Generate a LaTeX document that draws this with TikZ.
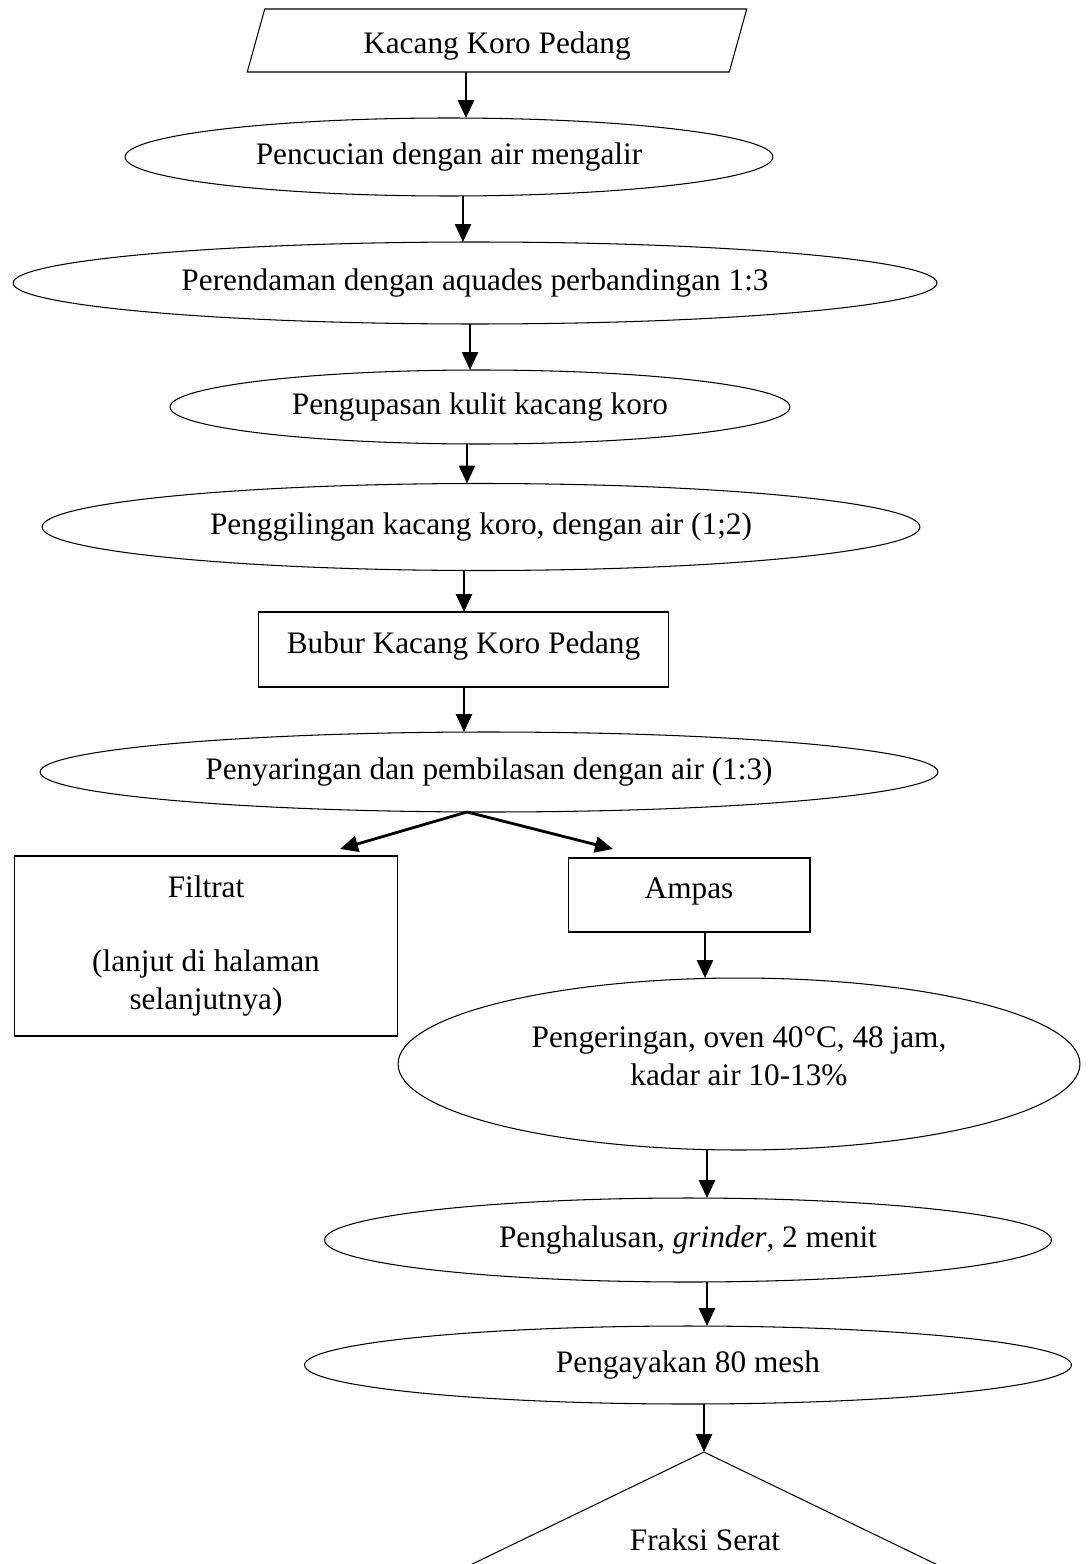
\documentclass[tikz,border=0pt]{standalone}
\usepackage{fontspec}
\setmainfont{Liberation Serif}
\usepackage{tikz}
\usetikzlibrary{shapes.geometric, arrows.meta}

\begin{document}
\begin{tikzpicture}[x = 0.02cm, y = -0.02cm,
  font = \fontsize{17.8}{22}\selectfont,
  garis/.style = {draw, line width = 0.6pt, inner sep = 0pt, outer sep = 0pt},
  proses/.style = {garis, ellipse},
  kotak/.style = {garis, rectangle},
  panah/.style = {draw, -{Triangle[length = 0.36cm, width = 0.32cm]}, line width = 1.6pt}]
  \useasboundingbox (0, 0) rectangle (1088, 1564);
  \clip (0, 0) rectangle (1088, 1564);

  \node[garis, trapezium, trapezium left angle = 76, trapezium right angle = 104,
    trapezium stretches = true, minimum width = 10cm, minimum height = 1.26cm,
    text height = 19pt, text depth = 4pt]
    (kacang) at (497, 40.5) {Kacang Koro Pedang};
  \node[proses, minimum width = 12.96cm, minimum height = 1.56cm] (cuci) at (449, 157) {Pencucian dengan air mengalir};
  \node[proses, minimum width = 18.48cm, minimum height = 1.64cm] (rendam) at (475, 283) {Perendaman dengan aquades perbandingan 1:3};
  \node[proses, minimum width = 12.4cm, minimum height = 1.48cm] (kupas) at (480, 407) {Pengupasan kulit kacang koro};
  \node[proses, minimum width = 17.56cm, minimum height = 1.74cm] (giling) at (481, 527) {Penggilingan kacang koro, dengan air (1;2)};
  \node[kotak, minimum width = 8.22cm, minimum height = 1.5cm, text depth = 8pt] (bubur) at (463.5, 649.5) {Bubur Kacang Koro Pedang};
  \node[proses, minimum width = 17.96cm, minimum height = 1.6cm] (saring) at (489, 772) {Penyaringan dan pembilasan dengan air (1:3)};
  \node[kotak, minimum width = 7.68cm, minimum height = 3.6cm, align = center] (filtrat) at (206, 946) {Filtrat\\[20pt](lanjut di halaman\\selanjutnya)};
  \node[kotak, minimum width = 4.84cm, minimum height = 1.48cm, text depth = 8pt] (ampas) at (689, 895) {Ampas};
  \node[proses, minimum width = 13.64cm, minimum height = 3.44cm, align = center] (kering) at (739, 1064) {Pengeringan, oven 40°C, 48 jam,\\kadar air 10-13\%\\[-13pt]\mbox{}};
  \node[proses, minimum width = 14.54cm, minimum height = 1.68cm] (halus) at (688, 1240) {Penghalusan, \textit{grinder}, 2 menit};
  \node[proses, minimum width = 15.34cm, minimum height = 1.56cm] (ayak) at (688, 1365) {Pengayakan 80 mesh};
  \node[garis, diamond, minimum width = 13.24cm, minimum height = 6.4cm] (fraksi) at (704, 1612) {};
  \node (fraksiteks) at (705, 1540) {Fraksi Serat};
  \coordinate (kiri) at (340, 849);
  \coordinate (kanan) at (613, 849);

  \path[every edge/.style = panah]
  (kacang.south -| 466, 0) edge (cuci.north -| 466, 0)
  (cuci.south -| 463, 0) edge (rendam.north -| 463, 0)
  (rendam.south -| 470, 0) edge (kupas.north -| 470, 0)
  (kupas.south -| 467, 0) edge (giling.north -| 467, 0)
  (giling.south -| 464, 0) edge (bubur.north -| 464, 0)
  (bubur.south -| 464, 0) edge (saring.north -| 464, 0)
  (saring.south -| 467, 0) edge (kiri)
  (saring.south -| 467, 0) edge (kanan)
  (ampas.south -| 705, 0) edge (kering.north -| 705, 0)
  (kering.south -| 707, 0) edge (halus.north -| 707, 0)
  (halus.south -| 707, 0) edge (ayak.north -| 707, 0)
  (ayak.south -| 704, 0) edge (fraksi.north);

\end{tikzpicture}
\end{document}
